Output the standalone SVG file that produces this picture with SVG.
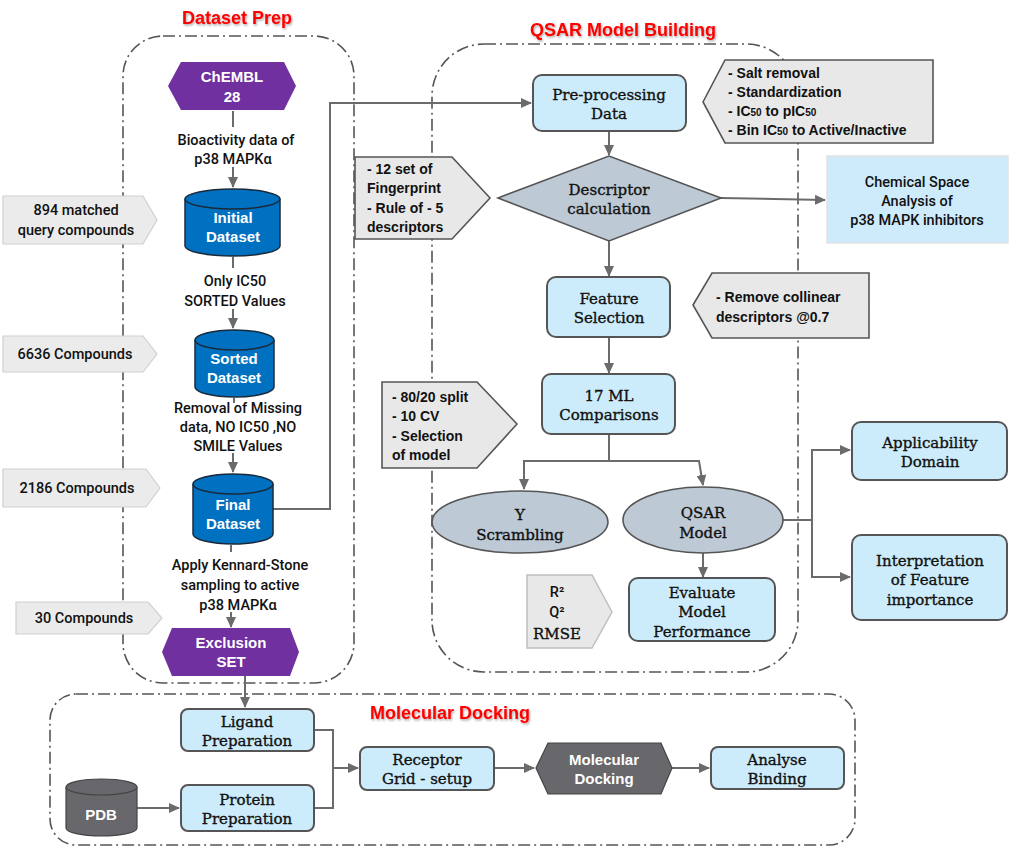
<svg xmlns="http://www.w3.org/2000/svg" width="1026" height="850" viewBox="0 0 1026 850">
<defs>
<marker id="arr" markerUnits="userSpaceOnUse" markerWidth="11" markerHeight="10" refX="10" refY="5" orient="auto">
<path d="M0,0 L11,5 L0,10 z" fill="#6b6b6b"/>
</marker>
<filter id="sh" x="-10%" y="-30%" width="120%" height="160%">
<feDropShadow dx="1" dy="1.5" stdDeviation="1" flood-color="#000" flood-opacity="0.35"/>
</filter>
<style>
.cont{fill:none;stroke:#555;stroke-width:1.6;stroke-dasharray:12 4 2 4}
.title{font-family:"Liberation Sans",Arial,sans-serif;font-weight:bold;font-size:18px;fill:#ff0000;text-anchor:middle}
.con{fill:none;stroke:#6b6b6b;stroke-width:2}
.box{fill:#cdecfb;stroke:#555;stroke-width:2}
.gshape{fill:#bdc9d4;stroke:#555;stroke-width:1.6}
.serif{font-family:"DejaVu Serif","Liberation Serif",serif;font-size:15px;fill:#111;stroke:#111;stroke-width:0.35;text-anchor:middle}
.din{font-family:Roboto,"DejaVu Sans Condensed",sans-serif;font-weight:500;font-size:14.5px;fill:#111;text-anchor:middle}
.bold{font-family:"Liberation Sans",Arial,sans-serif;font-weight:bold;font-size:14px;fill:#111}
.wt{font-family:"Liberation Sans",Arial,sans-serif;font-weight:bold;font-size:15px;fill:#fff;text-anchor:middle}
.tag{fill:#ebebeb;stroke:#d0d0d0;stroke-width:1.2}
.note{fill:#e8e8e8;stroke:#555;stroke-width:1.6}
.cyl{fill:#0070c0;stroke:#1a2a3a;stroke-width:1.5}
.purple{fill:#7030a0}
.dark{fill:#68676c;stroke:#444;stroke-width:1.2}
</style>
</defs>
<rect width="1026" height="850" fill="#fff"/>

<!-- containers -->
<g id="containers">
<rect class="cont" x="123" y="36" width="231" height="647" rx="40"/>
<rect class="cont" x="432" y="44" width="366" height="628" rx="52"/>
<rect class="cont" x="50" y="694" width="805" height="151" rx="26"/>
<text class="title" x="237" y="24" filter="url(#sh)">Dataset Prep</text>
<text class="title" x="623" y="36" filter="url(#sh)">QSAR Model Building</text>
<text class="title" x="450" y="719" filter="url(#sh)">Molecular Docking</text>
</g>

<!-- connectors -->
<g id="connectors">
<line class="con" x1="233" y1="111" x2="233" y2="127"/>
<line class="con" x1="233" y1="167" x2="233" y2="187" marker-end="url(#arr)"/>
<line class="con" x1="233" y1="257" x2="233" y2="268"/>
<line class="con" x1="233" y1="309" x2="233" y2="328" marker-end="url(#arr)"/>
<line class="con" x1="234" y1="398" x2="234" y2="403"/>
<line class="con" x1="233" y1="453" x2="233" y2="472" marker-end="url(#arr)"/>
<line class="con" x1="231" y1="545" x2="231" y2="552"/>
<line class="con" x1="231" y1="612" x2="231" y2="627" marker-end="url(#arr)"/>
<polyline class="con" points="273,509 330,509 330,103 531,103" marker-end="url(#arr)"/>
<line class="con" x1="609" y1="131" x2="609" y2="155" marker-end="url(#arr)"/>
<line class="con" x1="721" y1="198" x2="825" y2="200" marker-end="url(#arr)"/>
<line class="con" x1="609" y1="241" x2="609" y2="276" marker-end="url(#arr)"/>
<line class="con" x1="609" y1="337" x2="609" y2="373" marker-end="url(#arr)"/>
<polyline class="con" points="609,434 609,461 524,461 524,489" marker-end="url(#arr)"/>
<polyline class="con" points="609,461 699,461 703,485" marker-end="url(#arr)"/>
<line class="con" x1="703" y1="553" x2="703" y2="577" marker-end="url(#arr)"/>
<polyline class="con" points="782,520 812,520 812,450 850,450" marker-end="url(#arr)"/>
<polyline class="con" points="812,520 812,577 850,577" marker-end="url(#arr)"/>
<line class="con" x1="245" y1="676" x2="245" y2="707" marker-end="url(#arr)"/>
<line class="con" x1="137" y1="808" x2="179" y2="808" marker-end="url(#arr)"/>
<polyline class="con" points="314,730 333,730 333,808 314,808"/>
<line class="con" x1="333" y1="768" x2="358" y2="768" marker-end="url(#arr)"/>
<line class="con" x1="494" y1="768" x2="534" y2="768" marker-end="url(#arr)"/>
<line class="con" x1="672" y1="768" x2="709" y2="768" marker-end="url(#arr)"/>
</g>

<!-- dataset prep nodes -->
<g id="chembl">
<polygon class="purple" points="168,86 181,62 284,62 296,86 284,110 181,110"/>
<text class="wt" x="232" y="82">ChEMBL</text>
<text class="wt" x="232" y="102">28</text>
</g>
<g id="lbl-bioactivity">
<text class="din" x="236" y="145">Bioactivity data of</text>
<text class="din" x="233" y="164">p38 MAPKα</text>
</g>
<g id="initial-dataset">
<path class="cyl" d="M185,199 L185,246 A47.5,10 0 0 0 280,246 L280,199"/>
<ellipse class="cyl" cx="232.5" cy="199" rx="47.5" ry="10"/>
<text class="wt" x="233" y="223">Initial</text>
<text class="wt" x="233" y="242">Dataset</text>
</g>
<g id="lbl-ic50">
<text class="din" x="235" y="286">Only IC50</text>
<text class="din" x="235" y="306">SORTED Values</text>
</g>
<g id="sorted-dataset">
<path class="cyl" d="M195,340 L195,387 A39.5,10 0 0 0 274,387 L274,340"/>
<ellipse class="cyl" cx="234.5" cy="340" rx="39.5" ry="10"/>
<text class="wt" x="234" y="364">Sorted</text>
<text class="wt" x="234" y="383">Dataset</text>
</g>
<g id="lbl-removal">
<text class="din" x="238" y="413">Removal of Missing</text>
<text class="din" x="238" y="432">data, NO IC50 ,NO</text>
<text class="din" x="238" y="451">SMILE Values</text>
</g>
<g id="final-dataset">
<path class="cyl" d="M193,484 L193,534 A40,10 0 0 0 273,534 L273,484"/>
<ellipse class="cyl" cx="233" cy="484" rx="40" ry="10"/>
<text class="wt" x="233" y="510">Final</text>
<text class="wt" x="233" y="529">Dataset</text>
</g>
<g id="lbl-kennard">
<text class="din" x="240" y="570">Apply Kennard-Stone</text>
<text class="din" x="240" y="590">sampling to active</text>
<text class="din" x="238" y="610">p38 MAPKα</text>
</g>
<g id="exclusion-set">
<polygon class="purple" points="162,652 172,628 290,628 299,652 290,676 172,676"/>
<text class="wt" x="231" y="648">Exclusion</text>
<text class="wt" x="231" y="667">SET</text>
</g>
<g id="tag-894">
<polygon class="tag" points="3,196 143,196 157,220 143,244 3,244"/>
<text class="din" x="76" y="215">894 matched</text>
<text class="din" x="76" y="235">query compounds</text>
</g>
<g id="tag-6636">
<polygon class="tag" points="3,336 143,336 157,354 143,372 3,372"/>
<text class="din" x="75" y="359">6636 Compounds</text>
</g>
<g id="tag-2186">
<polygon class="tag" points="3,469 146,469 160,488 146,507 3,507"/>
<text class="din" x="77" y="493">2186 Compounds</text>
</g>
<g id="tag-30">
<polygon class="tag" points="16,602 148,602 162,618 148,634 16,634"/>
<text class="din" x="84" y="623">30 Compounds</text>
</g>

<!-- QSAR nodes -->
<g id="preprocessing">
<rect class="box" x="533" y="75" width="153" height="56" rx="9"/>
<text class="serif" x="609" y="100">Pre-processing</text>
<text class="serif" x="609" y="119">Data</text>
</g>
<g id="note-salt">
<polygon class="note" points="703,102 725,60 933,60 933,143 725,143"/>
<text class="bold" x="728" y="78">- Salt removal</text>
<text class="bold" x="728" y="97">- Standardization</text>
<text class="bold" x="728" y="116">- IC<tspan font-size="10">50</tspan> to pIC<tspan font-size="10">50</tspan></text>
<text class="bold" x="728" y="135">- Bin IC<tspan font-size="10">50</tspan> to Active/Inactive</text>
</g>
<g id="descriptor">
<polygon class="gshape" points="498,198 609,156 721,198 609,241"/>
<text class="serif" x="609" y="195">Descriptor</text>
<text class="serif" x="609" y="214">calculation</text>
</g>
<g id="note-fingerprint">
<polygon class="note" points="355,157 452,157 490,198 452,239 355,239"/>
<text class="bold" x="367" y="174">- 12 set of</text>
<text class="bold" x="367" y="193">Fingerprint</text>
<text class="bold" x="367" y="213">- Rule of - 5</text>
<text class="bold" x="367" y="232">descriptors</text>
</g>
<g id="chemical-space">
<rect x="827" y="156" width="181" height="87" fill="#cdebfb" stroke="#e3e3e3" stroke-width="1.5"/>
<text class="din" x="917" y="187">Chemical Space</text>
<text class="din" x="917" y="206">Analysis of</text>
<text class="din" x="917" y="225">p38 MAPK inhibitors</text>
</g>
<g id="feature-selection">
<rect class="box" x="547" y="277" width="123" height="60" rx="9"/>
<text class="serif" x="609" y="304">Feature</text>
<text class="serif" x="609" y="323">Selection</text>
</g>
<g id="note-collinear">
<polygon class="note" points="693,305 712,273 869,273 869,338 712,338"/>
<text class="bold" x="716" y="302">- Remove collinear</text>
<text class="bold" x="716" y="322">descriptors @0.7</text>
</g>
<g id="ml-comparisons">
<rect class="box" x="542" y="374" width="133" height="60" rx="9"/>
<text class="serif" x="609" y="401">17 ML</text>
<text class="serif" x="609" y="420">Comparisons</text>
</g>
<g id="note-split">
<polygon class="note" points="382,382 477,382 517,424 477,468 382,468"/>
<text class="bold" x="392" y="402">- 80/20 split</text>
<text class="bold" x="392" y="421">- 10 CV</text>
<text class="bold" x="392" y="441">- Selection</text>
<text class="bold" x="392" y="460">of model</text>
</g>
<g id="y-scrambling">
<ellipse class="gshape" cx="520" cy="522" rx="88" ry="31"/>
<text class="serif" x="520" y="520">Y</text>
<text class="serif" x="520" y="540">Scrambling</text>
</g>
<g id="qsar-model">
<ellipse class="gshape" cx="703" cy="520" rx="80" ry="33"/>
<text class="serif" x="703" y="518">QSAR</text>
<text class="serif" x="703" y="538">Model</text>
</g>
<g id="note-metrics">
<polygon points="527,575 592,575 612,612 592,648 527,648" fill="#e8e8e8" stroke="#bfbfbf" stroke-width="1.5"/>
<text class="din" x="557" y="597" font-family="'Open Sans',sans-serif">R²</text>
<text class="din" x="557" y="617" font-family="'Open Sans',sans-serif">Q²</text>
<text class="serif" x="557" y="639">RMSE</text>
</g>
<g id="evaluate">
<rect class="box" x="629" y="578" width="146" height="63" rx="9"/>
<text class="serif" x="702" y="598">Evaluate</text>
<text class="serif" x="702" y="617">Model</text>
<text class="serif" x="702" y="637">Performance</text>
</g>
<g id="applicability">
<rect class="box" x="852" y="422" width="155" height="58" rx="9"/>
<text class="serif" x="930" y="448">Applicability</text>
<text class="serif" x="930" y="467">Domain</text>
</g>
<g id="interpretation">
<rect class="box" x="852" y="535" width="155" height="85" rx="9"/>
<text class="serif" x="930" y="566">Interpretation</text>
<text class="serif" x="930" y="585">of Feature</text>
<text class="serif" x="930" y="605">importance</text>
</g>

<!-- docking nodes -->
<g id="ligand-prep">
<rect class="box" x="181" y="709" width="133" height="42" rx="7"/>
<text class="serif" x="247" y="727">Ligand</text>
<text class="serif" x="247" y="746">Preparation</text>
</g>
<g id="pdb">
<path d="M66,787 L66,828 A35.5,8 0 0 0 137,828 L137,787" fill="#68676c" stroke="#444" stroke-width="1.2"/>
<ellipse cx="101.5" cy="787" rx="35.5" ry="8" fill="#68676c" stroke="#444" stroke-width="1.2"/>
<text class="wt" x="101" y="820">PDB</text>
</g>
<g id="protein-prep">
<rect class="box" x="181" y="785" width="133" height="46" rx="7"/>
<text class="serif" x="247" y="805">Protein</text>
<text class="serif" x="247" y="824">Preparation</text>
</g>
<g id="receptor-grid">
<rect class="box" x="360" y="747" width="134" height="43" rx="7"/>
<text class="serif" x="427" y="765">Receptor</text>
<text class="serif" x="427" y="784">Grid - setup</text>
</g>
<g id="molecular-docking">
<polygon class="dark" points="536,768 548,743 661,743 672,768 661,794 548,794"/>
<text class="wt" x="604" y="765" font-size="14">Molecular</text>
<text class="wt" x="604" y="784" font-size="14">Docking</text>
</g>
<g id="analyse-binding">
<rect class="box" x="711" y="747" width="133" height="42" rx="7"/>
<text class="serif" x="777" y="765">Analyse</text>
<text class="serif" x="777" y="784">Binding</text>
</g>
</svg>
